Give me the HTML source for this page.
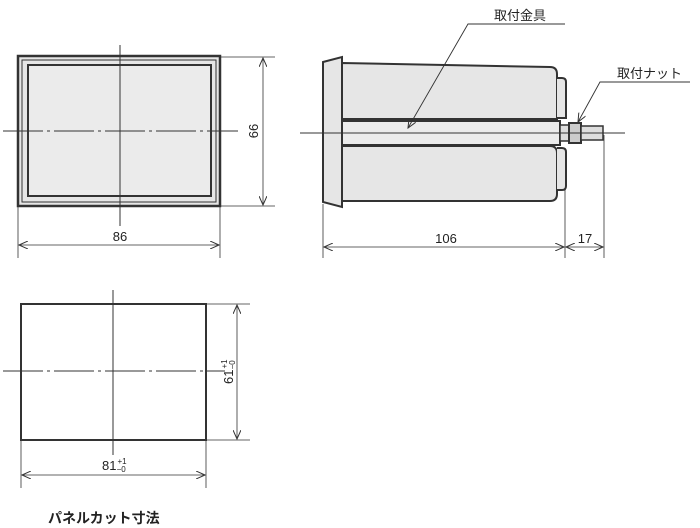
<!DOCTYPE html>
<html><head><meta charset="utf-8"><style>
html,body{margin:0;padding:0;background:#fff;}
svg{display:block;font-family:"Liberation Sans","Noto Sans CJK JP",sans-serif;}
</style></head><body>
<svg width="700" height="528" viewBox="0 0 700 528" xmlns="http://www.w3.org/2000/svg">
<defs>
<marker id="a" markerWidth="10" markerHeight="8" refX="9" refY="4" orient="auto-start-reverse" markerUnits="userSpaceOnUse">
<path d="M0,0 L9,4 L0,8" fill="none" stroke="#333" stroke-width="1"/></marker>
</defs>
<g stroke="#333" fill="none">
<rect x="18" y="56" width="202" height="150" fill="#e6e6e6" stroke-width="2.5"/>
<rect x="22" y="60" width="194" height="142" stroke-width="1"/>
<rect x="28" y="65" width="183" height="131" fill="#ebebeb" stroke-width="2"/>
<line x1="120" y1="45" x2="120" y2="226" stroke-width="1"/>
<line x1="3" y1="131" x2="238" y2="131" stroke-width="1" stroke-dasharray="40,4,3,4"/>
<line x1="220" y1="57" x2="275" y2="57" stroke-width="0.8"/>
<line x1="220" y1="206" x2="275" y2="206" stroke-width="0.8"/>
<line x1="263" y1="58" x2="263" y2="205" stroke-width="0.8" marker-start="url(#a)" marker-end="url(#a)"/>
<line x1="18" y1="206" x2="18" y2="258" stroke-width="0.8"/>
<line x1="220" y1="206" x2="220" y2="258" stroke-width="0.8"/>
<line x1="19" y1="245" x2="219" y2="245" stroke-width="0.8" marker-start="url(#a)" marker-end="url(#a)"/>
<polygon points="323,62 342,57 342,207 323,202" fill="#e6e6e6" stroke-width="2"/>
<path d="M342,63 L550,67 Q557,67 557,74 L557,119 L342,119 Z" fill="#e6e6e6" stroke-width="2"/>
<path d="M557,78 L562,78 Q566,78 566,82 L566,118 L557,118" fill="#e6e6e6" stroke-width="2"/>
<rect x="342" y="121" width="218" height="24" fill="#ececec" stroke-width="2"/>
<path d="M342,146 L550,146 Q557,146 557,153 L557,194 Q557,201 550,201 L342,201 Z" fill="#e6e6e6" stroke-width="2"/>
<path d="M557,148 L562,148 Q566,148 566,152 L566,186 Q566,190 562,190 L557,190" fill="#e6e6e6" stroke-width="2"/>
<rect x="560" y="125" width="9" height="16" fill="#ddd" stroke-width="1.5"/>
<rect x="569" y="123" width="12" height="20" fill="#ccc" stroke-width="2"/>
<rect x="581" y="126" width="22" height="14" fill="#ddd" stroke-width="1.5"/>
<line x1="300" y1="133" x2="625" y2="133" stroke-width="1"/>
<line x1="323" y1="204" x2="323" y2="258" stroke-width="0.8"/>
<line x1="565" y1="190" x2="565" y2="258" stroke-width="0.8"/>
<line x1="604" y1="135" x2="604" y2="258" stroke-width="0.8"/>
<line x1="324" y1="247" x2="564" y2="247" stroke-width="0.8" marker-start="url(#a)" marker-end="url(#a)"/>
<line x1="566" y1="247" x2="603" y2="247" stroke-width="0.8" marker-start="url(#a)" marker-end="url(#a)"/>
<polyline points="565,24 468,24 408,128" stroke-width="0.9" marker-end="url(#a)"/>
<polyline points="690,82 600,82 578,122" stroke-width="0.9" marker-end="url(#a)"/>
<rect x="21" y="304" width="185" height="136" stroke-width="2"/>
<line x1="113" y1="290" x2="113" y2="455" stroke-width="1"/>
<line x1="3" y1="371" x2="225" y2="371" stroke-width="1" stroke-dasharray="40,4,3,4"/>
<line x1="206" y1="304" x2="250" y2="304" stroke-width="0.8"/>
<line x1="206" y1="440" x2="250" y2="440" stroke-width="0.8"/>
<line x1="237" y1="305" x2="237" y2="439" stroke-width="0.8" marker-start="url(#a)" marker-end="url(#a)"/>
<line x1="21" y1="440" x2="21" y2="488" stroke-width="0.8"/>
<line x1="206" y1="440" x2="206" y2="488" stroke-width="0.8"/>
<line x1="22" y1="475" x2="205" y2="475" stroke-width="0.8" marker-start="url(#a)" marker-end="url(#a)"/>
</g>
<g fill="#222" font-size="13">
<text x="120" y="241" text-anchor="middle">86</text>
<text transform="translate(258,131) rotate(-90)" text-anchor="middle">66</text>
<text x="446" y="243" text-anchor="middle">106</text>
<text x="585" y="243" text-anchor="middle">17</text>
<text x="494" y="20" font-size="13">取付金具</text>
<text x="617" y="78" font-size="13">取付ナット</text>
<text x="102" y="470">81<tspan font-size="8" dx="1" dy="-6">+1</tspan><tspan font-size="8" dx="-10" dy="8">−0</tspan></text>
<text transform="translate(233,384) rotate(-90)">61<tspan font-size="8" dx="1" dy="-6">+1</tspan><tspan font-size="8" dx="-10" dy="8">−0</tspan></text>
<text x="48" y="523" font-size="14" font-weight="bold">パネルカット寸法</text>
</g>
</svg>
</body></html>
